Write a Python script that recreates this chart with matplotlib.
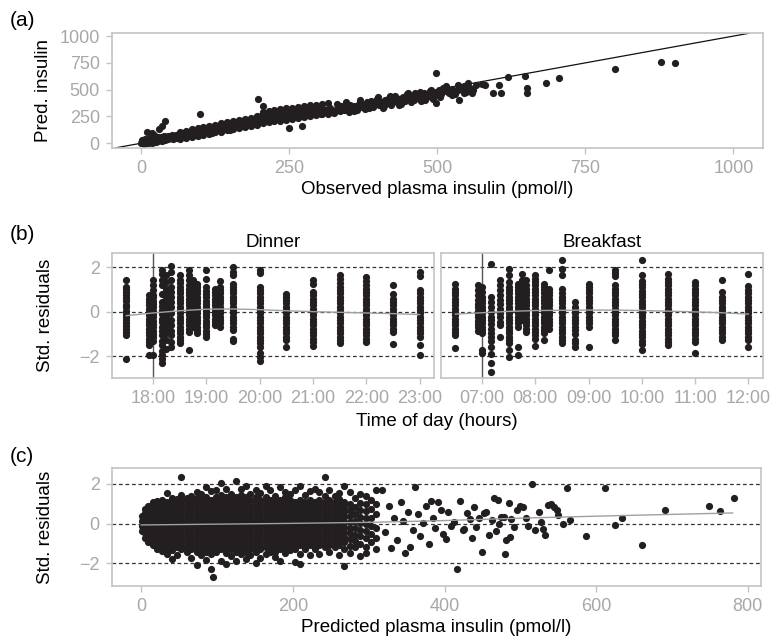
import matplotlib
matplotlib.use("Agg")
import matplotlib.pyplot as plt

plt.rcParams['font.family'] = ['Liberation Sans', 'DejaVu Sans']

# ---- panel (a): observed vs predicted insulin (pmol/l)
a_points = [
    (0, 2), (1, 18), (2, 30), (3, 8), (4, -4), (5, 22), (6, 38), (7, 12), (8, 0), (9, 28),
    (10, 15), (11, 40), (12, 5), (13, 25), (14, 48), (15, 10), (16, 33), (17, 20), (18, 2), (19, 44),
    (20, 28), (21, 15), (22, 36), (23, 52), (24, 22), (25, 8), (26, 40), (27, 30), (28, 58), (29, 18),
    (30, 45), (32, 28), (33, 60), (34, 35), (35, 20), (36, 50), (38, 40), (39, 65), (40, 30), (42, 55),
    (43, 42), (45, 70), (46, 38), (48, 55), (50, 48), (52, 72), (53, 40), (55, 60), (57, 52), (58, 78),
    (60, 45), (10, 108), (18, 95), (30, 130), (35, 160), (40, 210), (22, 72),
    (62, 65), (64, 88), (66, 55), (68, 80), (70, 95), (72, 68), (74, 85), (76, 100), (78, 72), (80, 92),
    (82, 105), (84, 80), (86, 98), (88, 115), (90, 88), (92, 105), (94, 120), (96, 95), (98, 112), (100, 130),
    (102, 98), (104, 118), (106, 135), (108, 105), (110, 125), (112, 140), (114, 112), (116, 130), (118, 148),
    (120, 118), (122, 138), (124, 155), (126, 125), (128, 145), (130, 160), (132, 130), (134, 150), (136, 168),
    (138, 138), (140, 158), (142, 175), (144, 145), (146, 162), (148, 180), (150, 150), (152, 170), (154, 188),
    (156, 158), (158, 175), (160, 192), (162, 162), (164, 182), (166, 200), (168, 170), (170, 188), (172, 205),
    (174, 175), (176, 195), (178, 212), (180, 180), (182, 200), (184, 218), (186, 185), (188, 205), (190, 222),
    (192, 190), (194, 210), (196, 228), (198, 198), (100, 270), (120, 95), (150, 125), (198, 410), (206, 348),
    (200, 240), (202, 215), (204, 260), (206, 230), (208, 250), (210, 205), (212, 270), (214, 238), (216, 255),
    (218, 222), (220, 275), (222, 245), (224, 262), (226, 230), (228, 280), (230, 250), (232, 268), (234, 238),
    (236, 285), (238, 255), (240, 272), (242, 242), (244, 290), (246, 262), (248, 278), (250, 248), (252, 295),
    (254, 265), (256, 282), (258, 252), (260, 300), (262, 270), (265, 288), (268, 258), (270, 305), (273, 278),
    (276, 292), (279, 262), (282, 310), (285, 285), (288, 300), (291, 268), (294, 318), (297, 290), (300, 305),
    (303, 275), (306, 325), (309, 298), (312, 312), (315, 282), (318, 332), (321, 305), (249, 145), (271, 165),
    (325, 280), (330, 320), (335, 300), (338, 345), (342, 310), (345, 335), (350, 290), (352, 360), (356, 325),
    (360, 345), (364, 310), (368, 370), (372, 335), (375, 355), (378, 320), (382, 385), (385, 350), (388, 395),
    (392, 340), (395, 370), (398, 410), (402, 360), (405, 385), (408, 330), (412, 400), (415, 375), (418, 420),
    (422, 360), (425, 395), (428, 440), (432, 380), (435, 410), (438, 365), (442, 430), (445, 395), (448, 455),
    (452, 420), (455, 385), (458, 440), (462, 470), (465, 420), (468, 455), (472, 395), (475, 445), (478, 470),
    (482, 430), (485, 460), (488, 490), (492, 415), (495, 450), (498, 375), (500, 480), (503, 500), (506, 455),
    (497, 660), (510, 520), (515, 490), (520, 470), (525, 510), (530, 460), (535, 495), (537, 405), (540, 520),
    (545, 530), (548, 480), (552, 560), (555, 515), (558, 470), (560, 500), (565, 540), (575, 555), (580, 545),
    (594, 470), (605, 545), (608, 470), (620, 620), (648, 625), (652, 515), (652, 470), (683, 560), (705, 605),
    (800, 690), (877, 760), (902, 750),
    # lower and upper edges of the band
    (65, 35), (75, 50), (85, 60), (95, 70), (105, 78), (115, 90), (125, 100), (135, 108), (145, 120),
    (155, 128), (165, 140), (175, 148), (185, 160), (195, 168), (205, 185), (215, 195), (225, 205),
    (235, 210), (245, 220), (255, 228), (265, 235), (275, 245), (285, 252), (295, 262), (305, 268), (315, 275),
    (65, 105), (75, 118), (85, 128), (95, 140), (105, 150), (115, 162), (125, 172), (135, 185), (145, 195),
    (155, 205), (165, 218), (175, 228), (185, 238), (195, 250), (205, 290), (215, 300), (225, 310),
    (235, 318), (245, 325), (255, 332), (265, 340), (275, 345), (285, 352), (295, 358), (305, 365), (315, 372),
    (330, 370), (345, 385), (360, 300), (370, 400), (385, 330), (400, 430), (410, 350), (420, 440),
    (435, 355), (450, 470), (460, 400), (470, 480), (480, 405), (490, 500), (505, 430), (515, 530),
    (525, 450), (535, 540), (545, 465),
]

# ---- panel (b): standardised residuals by sampling time (hours)
din_times = [17.5, 17.92, 18.0, 18.17, 18.25, 18.33, 18.5, 18.67, 18.75, 18.83, 19.0,
             19.17, 19.25, 19.5, 20.0, 20.5, 21.0, 21.5, 22.0, 22.5, 23.0]
din_resid = [
    [-2.13, -1.05, -0.92, -0.78, -0.65, -0.5, -0.37, -0.22, -0.08, 0.05, 0.2, 0.33, 0.48, 0.62, 0.75, 0.9, 1.03, 1.12, 1.42],
    [-1.92, -1.48, -1.35, -1.2, -1.05, -0.9, -0.75, -0.6, -0.45, -0.3, -0.15, 0.0, 0.15, 0.3, 0.45, 0.6, 0.75],
    [-1.95, -1.3, -1.15, -1.0, -0.85, -0.7, -0.55, -0.4, -0.25, -0.1, 0.05, 0.2, 0.35, 0.5, 0.65, 0.78, 0.97, 1.2, 1.42],
    [-2.3, -2.1, -1.95, -1.75, -1.5, -1.3, -1.05, -0.85, -0.67, -0.45, -0.3, -0.1, 0.07, 0.25, 0.45, 0.82, 1.2, 1.45, 1.7, 1.9],
    [-1.65, -1.27, -0.97, -0.67, -0.45, -0.2, 0.1, 0.35, 0.6, 0.82, 1.05, 1.35, 1.65],
    [-1.57, -1.35, -1.05, -0.85, -0.6, -0.37, -0.07, 0.2, 0.45, 0.67, 0.9, 1.1, 1.42, 1.8, 2.07],
    [-1.42, -1.28, -1.12, -0.97, -0.82, -0.67, -0.52, -0.37, -0.22, -0.07, 0.08, 0.23, 0.38, 0.53, 0.68, 0.83, 0.98, 1.13, 1.28, 1.45, 1.65],
    [-1.72, -0.9, -0.75, -0.6, -0.45, -0.3, -0.15, 0.0, 0.15, 0.3, 0.45, 0.6, 0.75, 0.9, 1.05, 1.2, 1.42, 1.65, 1.87],
    [-0.67, -0.52, -0.37, -0.22, -0.07, 0.08, 0.23, 0.38, 0.53, 0.68, 0.83, 0.98, 1.13, 1.28, 1.42],
    [-0.97, -0.82, -0.67, -0.52, -0.37, -0.22, -0.07, 0.08, 0.23, 0.38, 0.53, 0.68, 0.83, 0.98, 1.12, 1.27],
    [-1.15, -1.0, -0.85, -0.7, -0.55, -0.4, -0.25, -0.1, 0.05, 0.2, 0.35, 0.5, 0.65, 0.8, 0.95, 1.1, 1.5, 1.9],
    [-0.6, -0.45, -0.3, -0.15, 0.0, 0.15, 0.3, 0.45, 0.6, 0.75, 0.9, 1.05],
    [-0.67, -0.52, -0.37, -0.22, -0.07, 0.08, 0.23, 0.38, 0.53, 0.68, 0.83, 0.98, 1.13, 1.38],
    [-1.3, -1.2, -0.82, -0.67, -0.52, -0.37, -0.22, -0.07, 0.08, 0.23, 0.38, 0.53, 0.68, 0.83, 0.98, 1.13, 1.27, 1.65, 1.8, 2.02],
    [-2.2, -2.02, -1.87, -1.57, -1.42, -1.27, -1.12, -0.97, -0.82, -0.67, -0.52, -0.37, -0.22, -0.07, 0.08, 0.23, 0.38, 0.53, 0.68, 0.83, 0.98, 1.12, 1.75, 1.9],
    [-1.6, -1.27, -1.12, -0.97, -0.82, -0.67, -0.52, -0.37, -0.22, -0.07, 0.08, 0.23, 0.38, 0.53, 0.68, 0.82],
    [-1.53, -1.35, -1.2, -1.05, -0.9, -0.75, -0.6, -0.45, -0.3, -0.15, 0.0, 0.15, 0.3, 0.45, 0.6, 0.75, 0.9, 1.27, 1.42],
    [-1.42, -1.27, -1.12, -0.97, -0.82, -0.67, -0.52, -0.37, -0.22, -0.07, 0.08, 0.23, 0.38, 0.53, 0.68, 0.83, 0.98, 1.13, 1.28, 1.5, 1.68],
    [-1.35, -1.2, -1.05, -0.9, -0.75, -0.6, -0.45, -0.3, -0.15, 0.0, 0.15, 0.3, 0.45, 0.6, 0.75, 0.9, 1.05, 1.2, 1.38, 1.55],
    [-1.45, -0.9, -0.75, -0.6, -0.45, -0.3, -0.15, 0.0, 0.15, 0.3, 0.45, 0.6, 0.8, 1.22],
    [-1.95, -1.5, -1.12, -0.97, -0.82, -0.67, -0.52, -0.37, -0.22, -0.07, 0.08, 0.23, 0.38, 0.53, 0.68, 0.83, 1.0, 1.6, 1.78],
]
brk_times = [6.5, 6.92, 7.0, 7.17, 7.33, 7.5, 7.67, 7.75, 7.83, 8.0, 8.17, 8.25, 8.5,
             8.75, 9.0, 9.5, 10.0, 10.5, 11.0, 11.5, 12.0]
brk_resid = [
    [-1.62, -1.05, -0.9, -0.75, -0.6, -0.45, -0.3, -0.15, 0.0, 0.15, 0.3, 0.45, 0.6, 0.75, 0.9, 1.05, 1.27],
    [-0.85, -0.7, -0.55, -0.4, -0.25, -0.1, 0.05, 0.2, 0.35, 0.52, 0.75, 0.98, 1.2],
    [-1.85, -1.72, -0.97, -0.82, -0.67, -0.52, -0.37, -0.22, -0.07, 0.08, 0.23, 0.38, 0.53, 0.68, 0.9, 1.12],
    [-2.7, -2.32, -1.9, -1.57, -1.3, -1.12, -0.97, -0.75, -0.55, -0.37, -0.22, 0.0, 0.22, 0.45, 0.67, 2.17],
    [-1.12, -0.6, -0.45, -0.25, -0.05, 0.15, 0.35, 0.55, 0.75, 0.97, 1.2, 1.42],
    [-2.05, -1.7, -1.42, -1.27, -1.12, -0.97, -0.82, -0.67, -0.52, -0.37, -0.22, -0.07, 0.08, 0.23, 0.38, 0.53, 0.68, 0.83, 0.98, 1.13, 1.35, 1.65, 1.92],
    [-1.95, -1.57, -0.67, -0.52, -0.37, -0.22, -0.07, 0.08, 0.23, 0.38, 0.53, 0.68, 0.83, 0.98, 1.12, 1.27],
    [-0.37, -0.22, -0.07, 0.08, 0.23, 0.38, 0.53, 0.68, 0.83, 0.98, 1.13, 1.28, 1.42, 1.7],
    [-0.9, -0.75, -0.6, -0.45, -0.3, -0.15, 0.0, 0.15, 0.3, 0.45, 0.6, 0.75, 0.9, 1.05, 1.2, 1.42],
    [-1.55, -1.2, -1.05, -0.9, -0.75, -0.6, -0.45, -0.3, -0.15, 0.0, 0.15, 0.3, 0.45, 0.6, 0.75, 0.9, 1.05, 1.2, 1.35, 1.5, 1.65],
    [-1.27, -0.97, -0.82, -0.67, -0.52, -0.37, -0.22, -0.07, 0.08, 0.23, 0.38, 0.53, 0.68, 0.83, 0.98, 1.12, 1.27],
    [-0.75, -0.6, -0.45, -0.3, -0.15, 0.0, 0.15, 0.3, 0.45, 0.6, 0.75, 0.9, 1.05, 1.87],
    [-1.42, -1.27, -1.12, -0.97, -0.82, -0.67, -0.52, -0.37, -0.22, -0.07, 0.08, 0.23, 0.38, 0.53, 0.68, 0.83, 1.05, 1.65, 1.95, 2.32],
    [-1.57, -1.42, -1.27, -1.0, -0.82, -0.67, -0.52, -0.37, -0.22, -0.07, 0.08, 0.23, 0.45],
    [-1.57, -0.67, -0.52, -0.37, -0.22, -0.07, 0.08, 0.23, 0.38, 0.53, 0.68, 0.83, 0.98, 1.12, 1.27],
    [-1.27, -1.05, -0.9, -0.75, -0.6, -0.45, -0.3, -0.15, 0.0, 0.15, 0.3, 0.45, 0.6, 0.75, 0.9, 1.05, 1.2, 1.6, 1.75, 1.87],
    [-1.72, -1.45, -1.3, -1.15, -1.0, -0.85, -0.7, -0.55, -0.4, -0.25, -0.1, 0.05, 0.2, 0.35, 0.5, 0.65, 0.8, 0.95, 1.1, 1.25, 1.4, 1.65, 2.32],
    [-1.5, -1.35, -1.2, -1.05, -0.9, -0.75, -0.6, -0.45, -0.3, -0.15, 0.0, 0.15, 0.3, 0.45, 0.6, 0.75, 0.9, 1.05, 1.2, 1.35, 1.5, 1.72],
    [-1.83, -1.35, -1.2, -1.05, -0.9, -0.75, -0.6, -0.45, -0.3, -0.15, 0.0, 0.15, 0.3, 0.45, 0.6, 0.75, 0.9, 1.05, 1.2, 1.35],
    [-1.27, -1.12, -0.97, -0.82, -0.67, -0.52, -0.37, -0.22, -0.07, 0.08, 0.23, 0.38, 0.53, 0.68, 0.9, 1.42],
    [-1.57, -1.27, -1.12, -0.97, -0.82, -0.67, -0.52, -0.37, -0.22, -0.07, 0.08, 0.23, 0.38, 0.53, 0.68, 0.83, 0.98, 1.15, 1.72],
]
din_smooth_t = [17.5, 18, 18.5, 19, 19.5, 20, 20.5, 21, 21.5, 22, 22.5, 23]
din_smooth_r = [-0.17, -0.05, 0.05, 0.12, 0.13, 0.1, 0.05, 0.01, -0.02, -0.05, -0.08, -0.12]
brk_smooth_t = [6.5, 7, 7.5, 8, 8.5, 9, 9.5, 10, 10.5, 11, 11.5, 12]
brk_smooth_r = [-0.1, -0.04, 0.02, 0.06, 0.07, 0.08, 0.08, 0.06, 0.03, 0.0, -0.04, -0.1]

# ---- panel (c): residuals vs predicted insulin
c_dense = [
    (1, [-0.38, -0.12, 0.12, 0.38]),
    (5, [-0.7, -0.45, -0.2, 0.05, 0.3, 0.55, 0.75]),
    (9, [-0.9, -0.62, -0.37, -0.12, 0.13, 0.38, 0.63, 0.9]),
    (15, [-1.05, -0.8, -0.55, -0.3, -0.05, 0.2, 0.45, 0.7, 0.95, 1.1]),
    (21, [-1.3, -1.12, -0.92, -0.67, -0.42, -0.17, 0.08, 0.33, 0.58, 0.83, 1.05, 1.15]),
    (27, [-1.4, -1.05, -0.8, -0.55, -0.3, -0.05, 0.2, 0.45, 0.7, 0.95, 1.2]),
    (34, [-1.55, -1.32, -1.12, -0.92, -0.67, -0.42, -0.17, 0.08, 0.33, 0.58, 0.83, 1.08, 1.52]),
    (40, [-1.8, -1.35, -1.05, -0.8, -0.55, -0.3, -0.05, 0.2, 0.45, 0.7, 0.95, 1.2, 1.3]),
    (47, [-1.6, -1.17, -0.92, -0.67, -0.42, -0.17, 0.08, 0.33, 0.58, 0.83, 1.08, 1.25]),
    (53, [-1.3, -1.05, -0.8, -0.55, -0.3, -0.05, 0.2, 0.45, 0.7, 0.95, 1.2, 1.45, 2.32]),
    (60, [-1.42, -1.17, -0.92, -0.67, -0.42, -0.17, 0.08, 0.33, 0.58, 0.83, 1.08, 1.3]),
    (66, [-1.75, -1.3, -1.05, -0.8, -0.55, -0.3, -0.05, 0.2, 0.45, 0.7, 0.95, 1.2, 1.4]),
    (73, [-2.1, -1.42, -1.17, -0.92, -0.67, -0.42, -0.17, 0.08, 0.33, 0.58, 0.83, 1.08, 1.3, 1.6]),
    (79, [-1.6, -1.3, -1.05, -0.8, -0.55, -0.3, -0.05, 0.2, 0.45, 0.7, 0.95, 1.2, 1.5]),
    (86, [-1.85, -1.42, -1.17, -0.92, -0.67, -0.42, -0.17, 0.08, 0.33, 0.58, 0.83, 1.08, 1.33, 1.82]),
    (92, [-2.3, -1.55, -1.3, -1.05, -0.8, -0.55, -0.3, -0.05, 0.2, 0.45, 0.7, 0.95, 1.2, 1.65]),
    (95, [-2.7]),
    (99, [-1.42, -1.17, -0.92, -0.67, -0.42, -0.17, 0.08, 0.33, 0.58, 0.83, 1.08, 1.33, 1.7]),
    (105, [-1.9, -1.3, -1.05, -0.8, -0.55, -0.3, -0.05, 0.2, 0.45, 0.7, 0.95, 1.2, 1.45, 2.05]),
    (112, [-2.05, -1.5, -1.17, -0.92, -0.67, -0.42, -0.17, 0.08, 0.33, 0.58, 0.83, 1.08, 1.33, 1.75]),
    (118, [-1.65, -1.3, -1.05, -0.8, -0.55, -0.3, -0.05, 0.2, 0.45, 0.7, 0.95, 1.2, 1.5]),
    (125, [-1.9, -1.42, -1.17, -0.92, -0.67, -0.42, -0.17, 0.08, 0.33, 0.58, 0.83, 1.08, 1.33, 2.15]),
    (131, [-1.55, -1.3, -1.05, -0.8, -0.55, -0.3, -0.05, 0.2, 0.45, 0.7, 0.95, 1.2, 1.45, 1.75]),
    (138, [-1.8, -1.42, -1.17, -0.92, -0.67, -0.42, -0.17, 0.08, 0.33, 0.58, 0.83, 1.08, 1.33, 1.9]),
    (144, [-1.6, -1.3, -1.05, -0.8, -0.55, -0.3, -0.05, 0.2, 0.45, 0.7, 0.95, 1.2, 1.5]),
    (151, [-2.0, -1.42, -1.17, -0.92, -0.67, -0.42, -0.17, 0.08, 0.33, 0.58, 0.83, 1.08, 1.33, 1.7]),
    (157, [-1.75, -1.3, -1.05, -0.8, -0.55, -0.3, -0.05, 0.2, 0.45, 0.7, 0.95, 1.2, 1.55]),
    (164, [-1.55, -1.17, -0.92, -0.67, -0.42, -0.17, 0.08, 0.33, 0.58, 0.83, 1.08, 1.33, 1.9]),
    (170, [-1.45, -1.2, -1.05, -0.8, -0.55, -0.3, -0.05, 0.2, 0.45, 0.7, 0.95, 1.2, 1.7]),
    (177, [-1.7, -1.42, -1.17, -0.92, -0.67, -0.42, -0.17, 0.08, 0.33, 0.58, 0.83, 1.08, 1.4]),
    (183, [-1.9, -1.3, -1.05, -0.8, -0.55, -0.3, -0.05, 0.2, 0.45, 0.7, 0.95, 1.2, 1.85]),
    (190, [-1.5, -1.17, -0.92, -0.67, -0.42, -0.17, 0.08, 0.33, 0.58, 0.83, 1.08, 1.35, 1.6]),
    (196, [-1.35, -1.05, -0.8, -0.55, -0.3, -0.05, 0.2, 0.45, 0.7, 0.95, 1.2, 1.5]),
    (203, [-1.95, -1.3, -1.17, -0.92, -0.67, -0.42, -0.17, 0.08, 0.33, 0.58, 0.83, 1.08, 1.7]),
    (209, [-2.05, -1.55, -1.05, -0.8, -0.55, -0.3, -0.05, 0.2, 0.45, 0.7, 0.95, 1.2, 1.9]),
    (216, [-1.3, -1.17, -0.92, -0.67, -0.42, -0.17, 0.08, 0.33, 0.58, 0.83, 1.08, 1.45]),
    (222, [-1.6, -1.05, -0.8, -0.55, -0.3, -0.05, 0.2, 0.45, 0.7, 0.95, 1.2, 1.65]),
    (229, [-1.3, -1.17, -0.92, -0.67, -0.42, -0.17, 0.08, 0.33, 0.58, 0.83, 1.08, 1.75]),
    (235, [-1.55, -1.05, -0.8, -0.55, -0.3, -0.05, 0.2, 0.45, 0.7, 0.95, 1.2, 1.6]),
    (242, [-1.17, -0.92, -0.67, -0.42, -0.17, 0.08, 0.33, 0.58, 0.83, 1.08, 1.4, 2.35]),
    (248, [-1.45, -1.05, -0.8, -0.55, -0.3, -0.05, 0.2, 0.45, 0.7, 0.95, 1.2, 1.7]),
    (255, [-1.2, -0.92, -0.67, -0.42, -0.17, 0.08, 0.33, 0.58, 0.83, 1.08, 1.4]),
    (261, [-1.6, -1.05, -0.8, -0.55, -0.3, -0.05, 0.2, 0.45, 0.7, 0.95, 1.25, 1.55]),
    (268, [-2.15, -1.3, -0.92, -0.67, -0.42, -0.17, 0.08, 0.33, 0.58, 0.83, 1.1, 1.9]),
    (275, [-1.5, -1.1, -0.75, -0.45, -0.2, 0.1, 0.4, 0.7, 1.0, 1.6]),
    (282, [-1.2, -0.85, -0.55, -0.2, 0.15, 0.5, 0.85, 1.3]),
    (289, [-1.65, -1.0, -0.6, -0.3, 0.05, 0.35, 0.7, 1.05, 1.5]),
    (296, [-1.5, -1.2, -0.7, -0.35, 0.0, 0.3, 0.65, 1.0, 1.4]),
    (303, [-0.9, -0.5, -0.1, 0.3, 0.75, 1.2]),
    (310, [-1.3, -0.7, -0.2, 0.5, 1.0, 1.7]),
]
c_sparse = [
    (318, 1.7), (322, -0.4), (327, 0.9), (330, -1.25), (334, 0.3), (338, -0.8), (342, 1.1), (345, 0.15),
    (348, -1.5), (352, 0.6), (355, -1.2), (358, -0.3), (361, 1.85), (365, 0.5), (368, -0.6), (372, 0.05),
    (376, 0.9), (379, -1.0), (382, 1.15), (385, 0.3), (388, -0.2), (392, 1.1), (395, 0.7), (398, -0.5),
    (402, -0.77), (405, 0.6), (408, -0.1), (413, 0.08), (416, -2.28), (420, 1.15), (424, -0.3), (426, -0.26),
    (430, 0.55), (433, 0.25), (436, -0.7), (439, 0.85), (442, -0.17), (446, 0.3), (449, -1.42), (452, 0.55),
    (455, 0.6), (459, -0.55), (462, 0.2), (465, 1.28), (468, -0.35), (470, 1.2), (472, 0.0), (475, 0.35),
    (478, 0.34), (480, -1.55), (481, -0.82), (485, 1.02), (486, -0.68), (488, 0.25), (491, -0.17), (495, 0.7),
    (500, 0.9), (504, 0.85), (507, 0.26), (510, -0.1), (515, 2.0), (520, -0.34), (524, 0.6), (527, 0.08),
    (530, -0.26), (532, -0.56), (537, 0.95), (540, 1.0), (545, 0.85), (548, 0.68), (550, 0.43), (556, 0.0),
    (561, 1.78), (566, 0.17), (587, -0.63), (612, 1.78), (625, -0.05), (634, 0.29), (661, -1.09), (691, 0.7),
    (749, 0.9), (764, 0.65), (782, 1.28),
]
c_smooth_x = [0, 100, 200, 300, 400, 500, 600, 700, 780]
c_smooth_y = [-0.07, -0.03, 0.01, 0.06, 0.15, 0.27, 0.37, 0.46, 0.53]

DOT = '#231f20'
SPINE = '#c4c4c4'
TICKTXT = '#a8a8a8'
DOT_S = 27
LAB = 13.5


def style(ax):
    for s in ax.spines.values():
        s.set_color(SPINE)
        s.set_linewidth(1.2)
    ax.tick_params(colors=SPINE, labelcolor=TICKTXT, labelsize=13, length=4.5, width=1, pad=4)


def guides(ax):
    for v in (-2, 0, 2):
        ax.axhline(v, color='#333333', lw=0.9, dashes=(3, 2.2), zorder=1)


fig = plt.figure(figsize=(7.7, 6.38), dpi=100)
ax_a = fig.add_axes([0.145, 0.7685, 0.8459, 0.1793])
ax_d = fig.add_axes([0.145, 0.408, 0.419, 0.1959])
ax_b = fig.add_axes([0.5723, 0.408, 0.4186, 0.1959])
ax_c = fig.add_axes([0.145, 0.0815, 0.8429, 0.1845])

# (a)
ax_a.axline((0, 0), slope=1, color='#111111', lw=0.9, zorder=1)
ax_a.scatter([p[0] for p in a_points], [p[1] for p in a_points], s=DOT_S, color=DOT, lw=0, zorder=2)
ax_a.set_xlim(-50, 1050)
ax_a.set_ylim(-42, 1026)
ax_a.set_xticks([0, 250, 500, 750, 1000])
ax_a.set_yticks([0, 250, 500, 750, 1000])
ax_a.set_xlabel("Observed plasma insulin (pmol/l)", fontsize=LAB, labelpad=3)
ax_a.set_ylabel("Pred. insulin", fontsize=LAB)
ax_a.yaxis.set_label_coords(-0.092, 0.5)
style(ax_a)

# (b)
for ax, times, resid, st, sr, lim, vline, title in [
    (ax_d, din_times, din_resid, din_smooth_t, din_smooth_r, (17.225, 23.275), 18, "Dinner"),
    (ax_b, brk_times, brk_resid, brk_smooth_t, brk_smooth_r, (6.225, 12.275), 7, "Breakfast"),
]:
    guides(ax)
    ax.axvline(vline, color='#555555', lw=1, zorder=1)
    xs = [t for t, vals in zip(times, resid) for _ in vals]
    ys = [v for vals in resid for v in vals]
    ax.scatter(xs, ys, s=DOT_S, color=DOT, lw=0, zorder=2)
    ax.plot(st, sr, color='#a0a0a0', lw=1, zorder=3)
    ax.set_xlim(*lim)
    ax.set_ylim(-2.96, 2.66)
    hrs = list(range(int(lim[0]) + 1, int(lim[1]) + 1))
    ax.set_xticks(hrs)
    ax.set_xticklabels(["%02d:00" % h for h in hrs])
    ax.set_yticks([-2, 0, 2])
    ax.set_title(title, fontsize=LAB, pad=4)
    style(ax)

ax_b.tick_params(axis='y', left=False, labelleft=False)
ax_d.set_ylabel("Std. residuals", fontsize=LAB)
ax_d.yaxis.set_label_coords(-0.179, 0.5)
fig.text(0.567, 1 - 421 / 638, "Time of day (hours)", ha='center', va='center', fontsize=LAB)

# (c)
guides(ax_c)
cx = [x for x, vals in c_dense for _ in vals] + [p[0] for p in c_sparse]
cy = [v for _, vals in c_dense for v in vals] + [p[1] for p in c_sparse]
ax_c.scatter(cx, cy, s=DOT_S, color=DOT, lw=0, zorder=2)
ax_c.plot(c_smooth_x, c_smooth_y, color='#a0a0a0', lw=1, zorder=3)
ax_c.set_xlim(-39, 817)
ax_c.set_ylim(-3.13, 2.77)
ax_c.set_xticks([0, 200, 400, 600, 800])
ax_c.set_yticks([-2, 0, 2])
ax_c.set_xlabel("Predicted plasma insulin (pmol/l)", fontsize=LAB, labelpad=3)
ax_c.set_ylabel("Std. residuals", fontsize=LAB)
ax_c.yaxis.set_label_coords(-0.089, 0.5)
style(ax_c)

for lab, y in [("(a)", 20), ("(b)", 234), ("(c)", 456)]:
    fig.text(0.013, 1 - y / 638, lab, ha='left', va='center', fontsize=15)

fig.savefig("out.png", dpi=100)
